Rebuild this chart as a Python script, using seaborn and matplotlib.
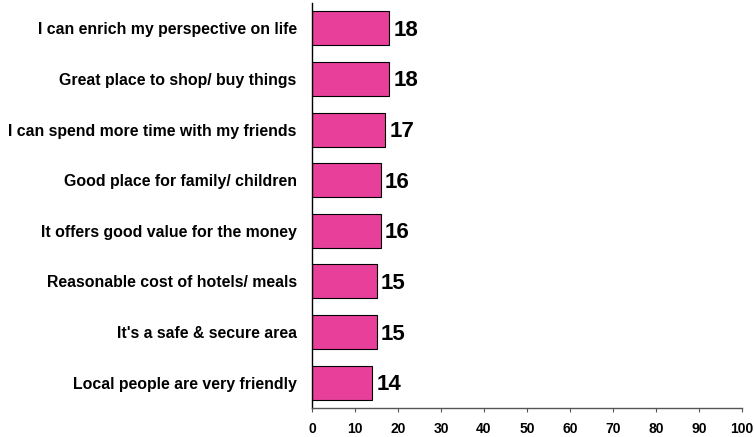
import matplotlib
matplotlib.use("Agg")
import matplotlib.pyplot as plt
import seaborn as sns
import pandas as pd

categories = [
    "I can enrich my perspective on life",
    "Great place to shop/ buy things",
    "I can spend more time with my friends",
    "Good place for family/ children",
    "It offers good value for the money",
    "Reasonable cost of hotels/ meals",
    "It's a safe & secure area",
    "Local people are very friendly",
]
values = [18, 18, 17, 16, 16, 15, 15, 14]
x_ticks = [0, 10, 20, 30, 40, 50, 60, 70, 80, 90, 100]

df = pd.DataFrame({"reason": categories, "pct": values})

sns.set_style("white")
plt.rcParams["font.family"] = ["Liberation Sans", "DejaVu Sans"]
plt.rcParams["text.color"] = "black"
plt.rcParams["xtick.color"] = "black"
plt.rcParams["ytick.color"] = "black"

fig = plt.figure(figsize=(7.55, 4.37), dpi=100)
ax = fig.add_axes([312 / 755, 1 - 408 / 437, (742 - 312) / 755, (408 - 3) / 437])

sns.barplot(data=df, x="pct", y="reason", orient="h", color="#E8409A",
            saturation=1, edgecolor="black", linewidth=0.8, width=0.67, ax=ax)

for i, v in enumerate(values):
    ax.text(v + 1.0, i + 0.04, f"{v}", va="center", ha="left",
            fontsize=16, fontweight="bold", color="black")

ax.set_xlim(0, 100)
ax.set_ylim(7.5, -0.5)
ax.set_xticks(x_ticks)
ax.set_xticklabels([str(t) for t in x_ticks], fontsize=10, fontweight="bold")
ax.set_yticks(range(len(categories)))
ax.set_yticklabels(categories, fontsize=11.4, fontweight="bold")
ax.set_xlabel("")
ax.set_ylabel("")

for s in ["top", "right"]:
    ax.spines[s].set_visible(False)
ax.spines["left"].set_color("black")
ax.spines["left"].set_linewidth(1.0)
ax.spines["bottom"].set_color("#555555")
ax.spines["bottom"].set_linewidth(1.0)
ax.tick_params(axis="x", direction="out", length=3, width=0.8, color="#555555",
               labelcolor="black", pad=7, bottom=True)
ax.tick_params(axis="y", length=0, pad=11, labelcolor="black")

fig.savefig("out.png", dpi=100)
